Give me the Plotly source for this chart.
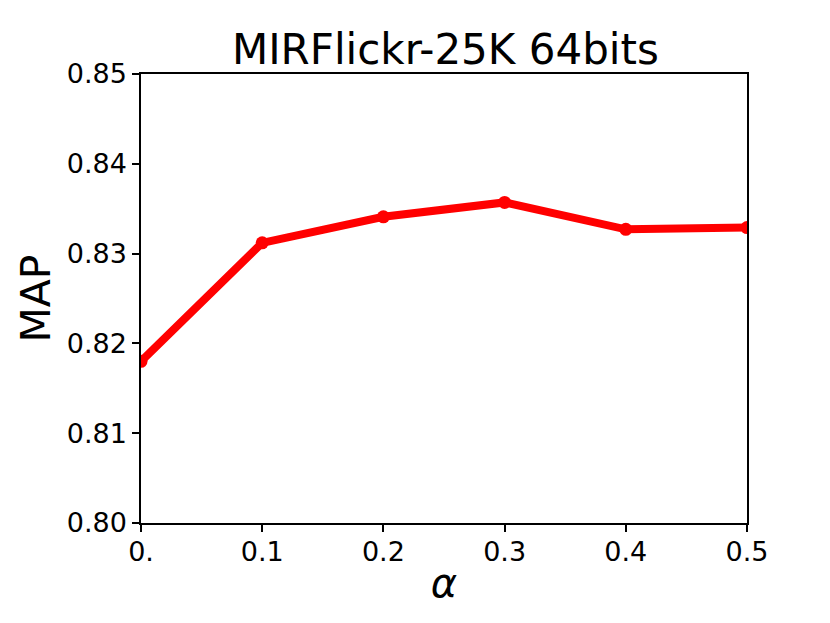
import plotly.graph_objects as go

# values
alpha = [0.0, 0.1, 0.2, 0.3, 0.4, 0.5]
map_score = [0.8180, 0.8312, 0.8341, 0.8357, 0.8327, 0.8329]
x_ticks = [0.0, 0.1, 0.2, 0.3, 0.4, 0.5]
x_labels = ["0.", "0.1", "0.2", "0.3", "0.4", "0.5"]
y_ticks = [0.80, 0.81, 0.82, 0.83, 0.84, 0.85]
y_labels = ["0.80", "0.81", "0.82", "0.83", "0.84", "0.85"]

fig = go.Figure()
fig.add_trace(go.Scatter(x=alpha, y=map_score, mode="lines+markers",
                         line=dict(color="#ff0000", width=8),
                         marker=dict(color="#ff0000", size=13),
                         showlegend=False))

axis_style = dict(showline=True, linecolor="black", linewidth=1.5, mirror=True,
                  ticks="outside", ticklen=7, tickwidth=1.5, tickcolor="black",
                  showgrid=False, zeroline=False,
                  tickfont=dict(family="DejaVu Sans", size=27, color="black"))

# the page body keeps an 8px margin, so the figure sits 8px in and down
fig.update_layout(
    width=830, height=623,
    margin=dict(l=133, r=91, t=66, b=108),
    paper_bgcolor="white", plot_bgcolor="white",
    title=dict(text="MIRFlickr-25K 64bits", x=0.527, xanchor="center",
               y=0.933, yanchor="middle",
               font=dict(family="DejaVu Sans", size=42, color="black")),
    xaxis=dict(range=[0, 0.5], tickvals=x_ticks, ticktext=x_labels,
               ticklabelstandoff=-3,
               title=dict(text="<i>α</i>", standoff=3,
                          font=dict(family="DejaVu Sans", size=40, color="black")),
               **axis_style),
    yaxis=dict(range=[0.80, 0.85], tickvals=y_ticks, ticktext=y_labels,
               title=dict(text="MAP", standoff=3,
                          font=dict(family="DejaVu Sans", size=41, color="black")),
               **axis_style),
)

fig.write_html("out.html")
